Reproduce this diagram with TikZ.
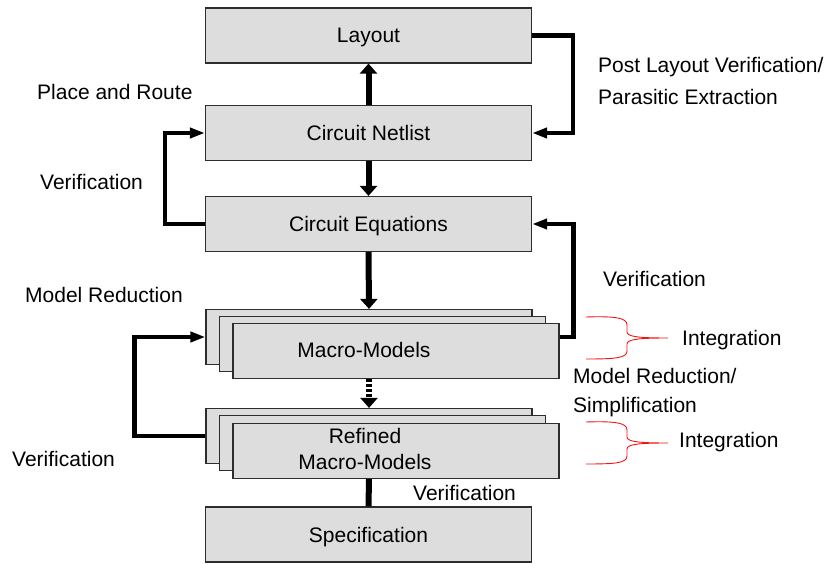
\documentclass[tikz,border=0pt]{standalone}
\usepackage{fontspec}
\setmainfont{Liberation Sans}
\usetikzlibrary{arrows.meta, calc}
\usepackage{xcolor}
\definecolor{colBox}{RGB}{221,221,221}
\definecolor{colBorder}{RGB}{45,45,45}
\definecolor{colBrace}{RGB}{240,20,20}
\newcommand{\lblfont}{\fontsize{21}{25}\selectfont}
\tikzset{
    block/.style={rectangle, draw=colBorder, fill=colBox, line width=1.2pt,
        minimum width=326pt, minimum height=55pt, inner sep=0pt,
        text height=15pt, text depth=0pt, align=center, font=\lblfont},
    lbl/.style={anchor=base west, inner sep=0pt, align=left, font=\lblfont},
    arrow/.style={-{Triangle[length=10pt,width=17pt]}, line width=6pt},
    looparrow/.style={-{Triangle[length=15pt,width=10pt]}, line width=4.5pt},
    link/.style={line width=6pt},
    bracestyle/.style={draw=colBrace, line width=0.9pt}
}
% curly brace opening to the left, tip at the given point
\newcommand{\intbrace}[1]{%
    \draw[bracestyle, shift={#1}] (-82,-21) .. controls (-52,-22) and (-41,-20) .. (-41,-13)
        -- (-41,-6) .. controls (-41,-1) and (-27,0) .. (0,0)
        .. controls (-27,0) and (-41,1) .. (-41,6) -- (-41,13)
        .. controls (-41,20) and (-52,21) .. (-82,21);}

\begin{document}
\begin{tikzpicture}[x=1pt, y=-1pt]
    \useasboundingbox (0,0) rectangle (828,564);

    % main flow
    \node[block] (layout) at (368.5,35.5) {Layout};
    \node[block] (netlist) at (368.5,133) {Circuit Netlist};
    \node[block] (equations) at (368.5,224) {Circuit Equations};
    \node[block] (mback) at (369,337) {};
    \node[block] (mmid) at (382.5,344) {};
    \node[block] (mfront) at (396,351) {};
    \node[font=\lblfont, inner sep=0pt] (mtext) at (364,350) {Macro-Models};
    \node[block] (rback) at (369,436) {};
    \node[block] (rmid) at (382.5,443) {};
    \node[block] (rfront) at (396,451) {};
    \node[font=\fontsize{21}{26}\selectfont, align=center, inner sep=0pt] (rtext) at (365,449) {Refined\\Macro-Models};
    \node[block] (spec) at (368.5,534.5) {Specification};

    % labels
    \node[lbl] (pnr) at (37,100) {Place and Route};
    \node[lbl, font=\fontsize{21}{32}\selectfont] (post) at (598,105) {Post Layout Verification/\\Parasitic Extraction};
    \node[lbl] (ver1) at (40,190) {Verification};
    \node[lbl] (ver2) at (603,287) {Verification};
    \node[lbl] (mred) at (25,303) {Model Reduction};
    \node[lbl] (int1) at (682,345) {Integration};
    \node[lbl, font=\fontsize{21}{29}\selectfont] (msimp) at (573,412) {Model Reduction/\\Simplification};
    \node[lbl] (int2) at (679,447) {Integration};
    \node[lbl] (ver3) at (12,466) {Verification};
    \node[lbl] (ver4) at (413,500) {Verification};

    % connectors
    \draw[arrow] (netlist.north) -- (layout.south);
    \draw[arrow] (netlist.south) -- (equations.north);
    \draw[arrow] (equations.south) -- (mback.north);
    \draw[arrow, dash pattern=on 3pt off 2pt] (mback.south |- mfront.south) -- (rback.north);
    \draw[link] (rback.south |- rfront.south) -- (spec.north);
    \draw[looparrow] (layout.east) -- ++(41,0) |- (netlist.east);
    \draw[looparrow] (equations.west) -- ++(-40,0) |- (netlist.west);
    \draw[looparrow] ([yshift=14pt]mfront.east) -- ++(14,0) |- (equations.east);
    \draw[looparrow] (rback.west) -- ++(-71,0) |- (mback.west);

    % braces
    \intbrace{(668,338)}
    \intbrace{(668,443)}
\end{tikzpicture}
\end{document}
